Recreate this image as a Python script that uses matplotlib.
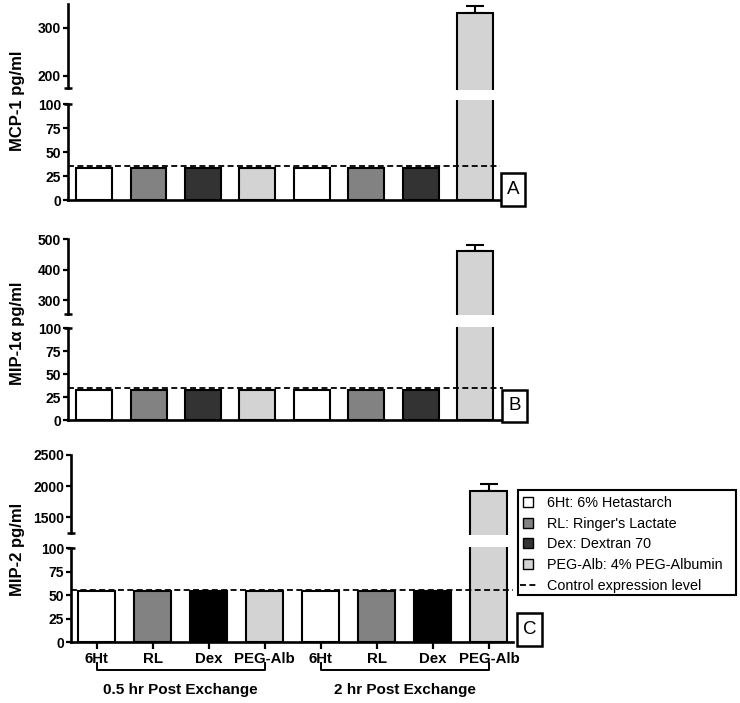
import matplotlib
matplotlib.use("Agg")
import matplotlib.pyplot as plt
from matplotlib.lines import Line2D
from matplotlib.patches import Rectangle

plt.rcParams['font.family'] = ['Liberation Sans', 'DejaVu Sans']

# data
treatments = ['6Ht', 'RL', 'Dex', 'PEG-Alb', '6Ht', 'RL', 'Dex', 'PEG-Alb']
groups = ['0.5 hr Post Exchange', '2 hr Post Exchange']
legend_labels = ['6Ht: 6% Hetastarch', "RL: Ringer's Lactate", 'Dex: Dextran 70',
                 'PEG-Alb: 4% PEG-Albumin', 'Control expression level']

mcp1 = [33, 33, 33, 33, 33, 33, 33, 331]
mcp1_sem = [0, 0, 0, 0, 0, 0, 0, 14]
mcp1_ctrl = 35.7

mip1a = [33, 33, 33, 33, 33, 33, 33, 461]
mip1a_sem = [0, 0, 0, 0, 0, 0, 0, 20]
mip1a_ctrl = 35.2

mip2 = [54, 54, 54, 54, 54, 54, 54, 1930]
mip2_sem = [0, 0, 0, 0, 0, 0, 0, 105]
mip2_ctrl = 55.5

cols_ab = ['white', '#828282', '#333333', '#d3d3d3'] * 2
cols_c = ['white', '#828282', '#000000', '#d3d3d3'] * 2

W, H = 740, 703
fig = plt.figure(figsize=(W / 100, H / 100), dpi=100)


def px_axes(x0, y0, x1, y1):
    return fig.add_axes([x0 / W, 1 - y1 / H, (x1 - x0) / W, (y1 - y0) / H])


def px_rect(x0, y0, x1, y1, lw):
    fig.add_artist(Rectangle((x0 / W, 1 - y1 / H), (x1 - x0) / W, (y1 - y0) / H,
                             transform=fig.transFigure, facecolor='white',
                             edgecolor='black', lw=lw))


def style(ax, ticks, bounds):
    for s in ['top', 'right']:
        ax.spines[s].set_visible(False)
    ax.spines['left'].set_linewidth(1.9)
    ax.spines['bottom'].set_linewidth(1.9)
    ax.spines['left'].set_bounds(*bounds)
    ax.set_yticks(ticks)
    ax.tick_params(axis='y', length=3.5, width=1.6, pad=1.5, labelsize=10)
    for t in ax.get_yticklabels():
        t.set_fontweight('bold')


def panel(vals, sem, ctrl, cols, xbox, low, up, xlim, up_ticks, up_bounds,
          ylabel, ylab_y, letter, lbox, xlabels=False):
    x = list(range(len(vals)))
    x0, x1 = xbox
    ax_lo = px_axes(x0, low[0], x1, low[1])
    ax_up = px_axes(x0, up[0], x1, up[1])
    for ax in (ax_lo, ax_up):
        ax.bar(x, vals, width=0.66, color=cols, edgecolor='black', linewidth=1.5, zorder=2)
        ax.set_xlim(*xlim)
        e = [i for i in x if sem[i] > 0]
        ax.errorbar([x[i] for i in e], [vals[i] for i in e],
                    yerr=[[0] * len(e), [sem[i] for i in e]], fmt='none',
                    ecolor='black', elinewidth=1.5, capsize=6.5, capthick=1.5, zorder=1)
    ax_lo.set_ylim(0, low[2])
    ax_up.set_ylim(*up[2])
    style(ax_lo, [0, 25, 50, 75, 100], (0, 100))
    style(ax_up, up_ticks, up_bounds)
    ax_up.spines['bottom'].set_visible(False)
    ax_up.set_xticks([])
    ax_lo.axhline(ctrl, color='black', lw=1.3, ls=(0, (3.3, 1.9)), zorder=3)
    # break marks
    ax_up.plot([0], [up_bounds[0]], marker='_', ms=6, mew=1.8, color='black',
               transform=ax_up.get_yaxis_transform(), clip_on=False)
    ax_lo.plot([0], [100], marker='_', ms=6, mew=1.8, color='black',
               transform=ax_lo.get_yaxis_transform(), clip_on=False)
    if xlabels:
        ax_lo.set_xticks(x)
        ax_lo.set_xticklabels(treatments, fontsize=10.8, fontweight='bold')
        ax_lo.tick_params(axis='x', length=5, width=1.6, pad=2)
    else:
        ax_lo.set_xticks([])
    fig.text(18 / W, 1 - ylab_y / H, ylabel, rotation=90, ha='center', va='center',
             fontsize=12, fontweight='bold')
    px_rect(*lbox, 1.8)
    bx0, by0, bx1, by1 = lbox
    fig.text((bx0 + bx1) / 2 / W, 1 - (by0 + by1) / 2 / H, letter, ha='center',
             va='center', fontsize=13.5)
    return ax_lo


panel(mcp1, mcp1_sem, mcp1_ctrl, cols_ab, (68, 500), (100, 200, 104.2),
      (4, 90, (171, 349)), (-0.48, 7.46), [200, 300], (175, 349),
      'MCP-1 pg/ml', 101, 'A', (501, 173, 525, 206))
panel(mip1a, mip1a_sem, mip1a_ctrl, cols_ab, (68, 503), (326.7, 420, 101.7),
      (239.3, 315, (250.6, 500)), (-0.48, 7.51), [300, 400, 500], (253, 500),
      'MIP-1α pg/ml', 333, 'B', (502, 390, 527, 422))
axc = panel(mip2, mip2_sem, mip2_ctrl, cols_c, (71, 513), (546.7, 642, 101.4),
            (455, 535, (1216, 2500)), (-0.46, 7.43), [1500, 2000, 2500], (1253, 2500),
            'MIP-2 pg/ml', 549, 'C', (517, 613, 542, 646), xlabels=True)

# group brackets
tr = axc.get_xaxis_transform()
for g, name in enumerate(groups):
    a, b = 4 * g, 4 * g + 3
    axc.plot([a, a, b, b], [-0.22, -0.294, -0.294, -0.22], color='black', lw=1.4,
             transform=tr, clip_on=False)
    axc.text((a + b) / 2, -0.50, name, transform=tr, ha='center', va='center',
             fontsize=11, fontweight='bold')

# legend (own frame)
px_rect(518, 490, 736, 595, 1.5)
handles = [Line2D([], [], ls='none', marker='s', ms=7, mfc=c, mec='black', mew=1)
           for c in cols_ab[:4]]
handles.append(Line2D([], [], color='black', lw=1.3, ls=(0, (3.3, 1.9))))
leg = fig.legend(handles, legend_labels, loc='upper left',
                 bbox_to_anchor=(520 / W, 1 - 496 / H), borderaxespad=0,
                 fontsize=10.4, frameon=False, handlelength=1.1,
                 handletextpad=0.75, labelspacing=0.46, borderpad=0)
leg.set_zorder(5)

fig.savefig('out.png', dpi=100)
